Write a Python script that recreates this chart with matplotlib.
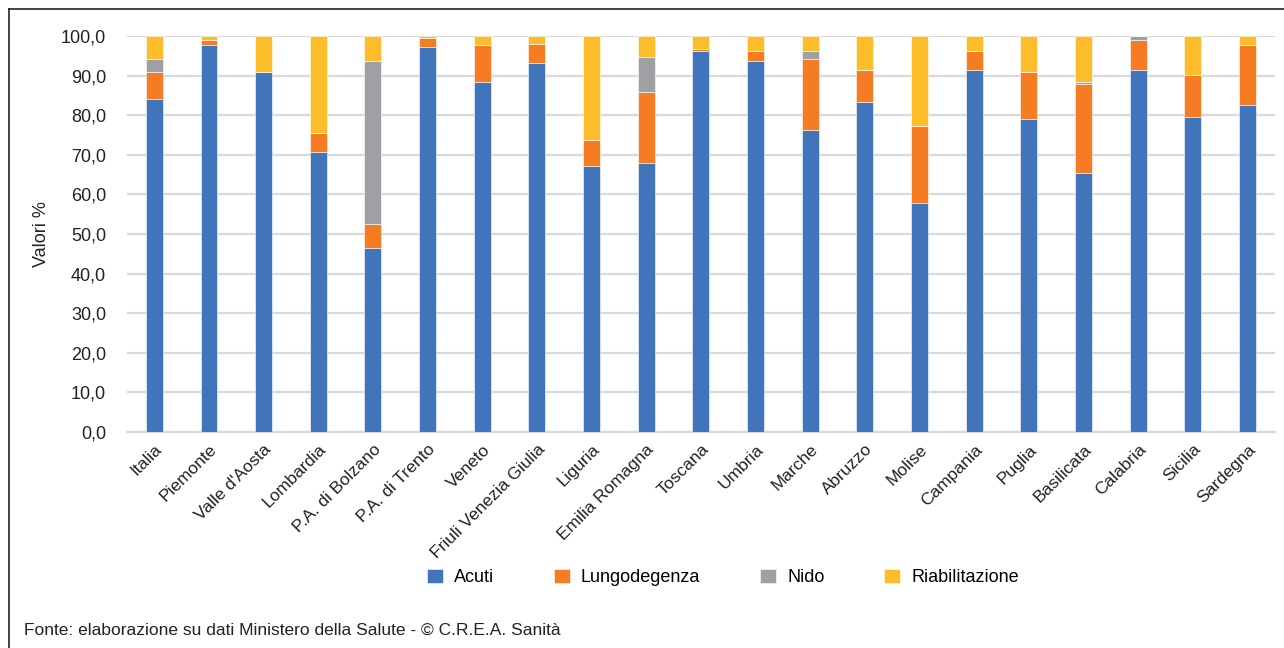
import matplotlib
matplotlib.use("Agg")
import matplotlib.pyplot as plt
from matplotlib.lines import Line2D
import numpy as np

plt.rcParams['font.family'] = ['Liberation Sans Narrow', 'Liberation Sans', 'DejaVu Sans']

regions = ["Italia", "Piemonte", "Valle d'Aosta", "Lombardia", "P.A. di Bolzano",
           "P.A. di Trento", "Veneto", "Friuli Venezia Giulia", "Liguria",
           "Emilia Romagna", "Toscana", "Umbria", "Marche", "Abruzzo", "Molise",
           "Campania", "Puglia", "Basilicata", "Calabria", "Sicilia", "Sardegna"]

acuti = [84.0, 97.8, 90.8, 70.8, 46.5, 97.3, 88.4, 93.2, 67.3, 67.9, 96.1,
         93.7, 76.2, 83.4, 57.9, 91.4, 79.1, 65.5, 91.4, 79.6, 82.7]
lungodegenza = [6.8, 1.1, 0.0, 4.7, 6.1, 2.2, 9.4, 4.7, 6.5, 18.0, 0.5,
                2.4, 18.1, 8.0, 19.5, 4.7, 11.7, 22.3, 7.6, 10.6, 15.1]
nido = [3.5, 0.0, 0.0, 0.0, 41.1, 0.0, 0.0, 0.0, 0.0, 8.9, 0.0,
        0.0, 1.8, 0.0, 0.0, 0.0, 0.0, 0.6, 1.0, 0.0, 0.0]
riabilitazione = [5.7, 1.1, 9.2, 24.5, 6.3, 0.5, 2.2, 2.1, 26.2, 5.2, 3.4,
                  3.9, 3.9, 8.6, 22.6, 3.9, 9.2, 11.6, 0.0, 9.8, 2.2]

series = [("Acuti", acuti, "#4174BA"),
          ("Lungodegenza", lungodegenza, "#F57C22"),
          ("Nido", nido, "#9FA0A3"),
          ("Riabilitazione", riabilitazione, "#FDBD2B")]

fig = plt.figure(figsize=(12.84, 6.48), dpi=100)
ax = fig.add_axes([0.0989, 0.3333, 0.894, 0.6111])

x = np.arange(len(regions))
bottom = np.zeros(len(regions))
handles = []
for name, vals, col in series:
    b = ax.bar(x, vals, 0.31, bottom=bottom, color=col, label=name,
               edgecolor='white', linewidth=0.4, zorder=3)
    handles.append(b)
    bottom += np.array(vals)

ax.set_ylim(0, 100)
ax.set_xlim(-0.5, len(regions) - 0.5)
ax.set_yticks(np.arange(0, 101, 10))
ax.set_yticklabels([("%.1f" % v).replace(".", ",") for v in np.arange(0, 101, 10)],
                   fontsize=13, color='#222222')
ax.set_xticks(x)
ax.set_xticklabels(regions, rotation=45, ha='right', rotation_mode='anchor',
                   fontsize=12.5, color='#222222')
ax.tick_params(axis='y', length=0, pad=15)
ax.tick_params(axis='x', length=0, pad=7)
ax.grid(axis='y', color='#D9D9D9', linewidth=1.6, zorder=0)
for s in ['top', 'right', 'left']:
    ax.spines[s].set_visible(False)
ax.spines['bottom'].set_color('#D9D9D9')
ax.spines['bottom'].set_linewidth(1.6)
ax.set_ylabel("Valori %", fontsize=13, color='#222222', labelpad=8)

fig.legend(handles=handles, labels=[s[0] for s in series], loc='center',
           bbox_to_anchor=(0.563, 0.109), ncol=4, frameon=False, fontsize=13,
           handlelength=0.9, handleheight=0.9, columnspacing=3.3, handletextpad=0.6)

fig.text(0.019, 0.027, "Fonte: elaborazione su dati Ministero della Salute - © C.R.E.A. Sanità",
         fontsize=12.5, color='#222222', ha='left', va='center')

# partial frame: top and left edges only
fig.lines.append(Line2D([9 / 1284, 1.0], [1 - 9 / 648, 1 - 9 / 648], transform=fig.transFigure,
                        color='#222222', linewidth=1.2))
fig.lines.append(Line2D([9 / 1284, 9 / 1284], [0.0, 1 - 9 / 648], transform=fig.transFigure,
                        color='#222222', linewidth=1.2))

fig.savefig("out.png", dpi=100)
